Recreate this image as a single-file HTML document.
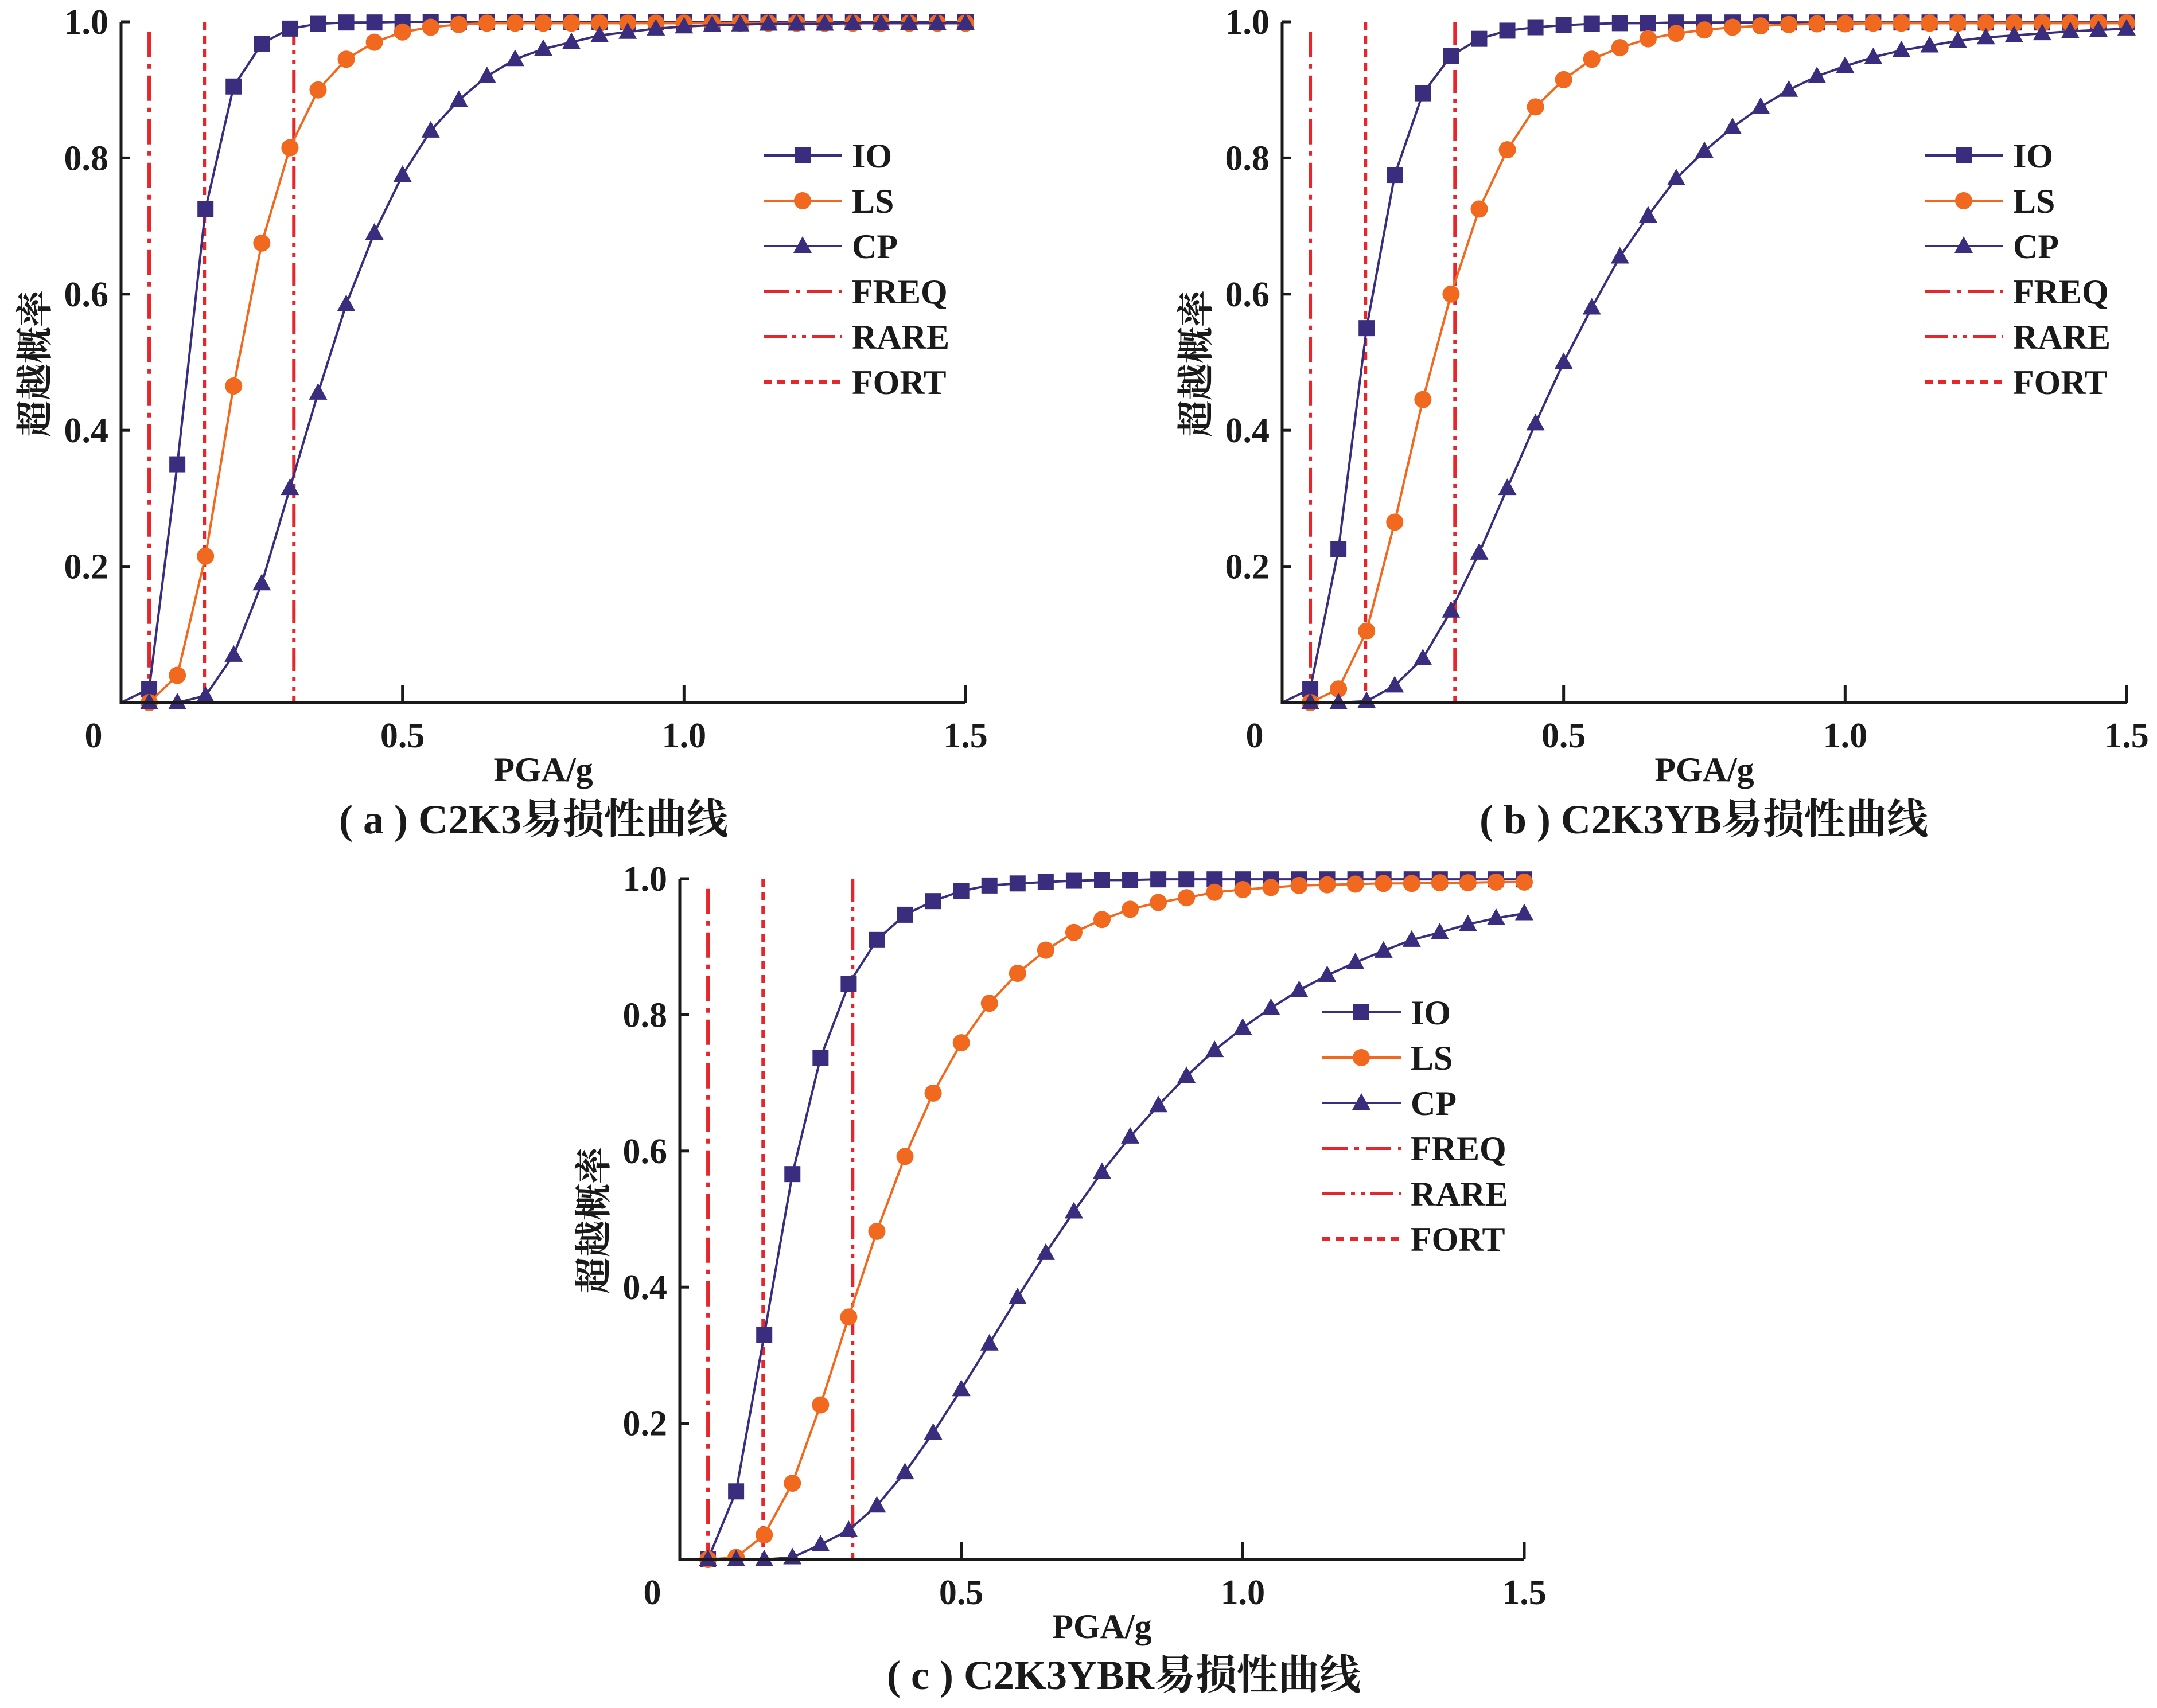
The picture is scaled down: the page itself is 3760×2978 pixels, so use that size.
<!DOCTYPE html>
<html><head><meta charset="utf-8">
<style>
html,body{margin:0;padding:0;background:#fff;}
svg{display:block;}
text{font-family:"Liberation Serif","Noto Serif CJK SC",serif;font-weight:bold;fill:#1a1a1a;}
</style></head>
<body>
<svg id="chart" width="3760" height="2978" viewBox="0 0 3760 2978" xmlns="http://www.w3.org/2000/svg"></svg>
<script>
const pga = [0,0.05,0.1,0.15,0.2,0.25,0.3,0.35,0.4,0.45,0.5,0.55,0.6,0.65,0.7,0.75,0.8,0.85,0.9,0.95,1.0,1.05,1.1,1.15,1.2,1.25,1.3,1.35,1.4,1.45,1.5];
const aIO = [0,0.02,0.35,0.725,0.905,0.968,0.99,0.997,0.999,0.999,1,1,1,1,1,1,1,1,1,1,1,1,1,1,1,1,1,1,1,1,1];
const aLS = [0,0,0.04,0.215,0.465,0.675,0.815,0.9,0.945,0.97,0.985,0.992,0.996,0.998,0.998,0.998,0.998,0.998,0.998,0.998,0.998,0.998,0.998,0.998,0.998,0.998,0.998,0.998,0.998,0.998,0.998];
const aCP = [0,0,0,0.01,0.07,0.175,0.315,0.455,0.585,0.69,0.775,0.84,0.885,0.92,0.945,0.96,0.97,0.98,0.985,0.99,0.993,0.995,0.996,0.997,0.997,0.997,0.998,0.998,0.998,0.998,0.998];
const bIO = [0,0.02,0.225,0.55,0.775,0.895,0.95,0.975,0.987,0.992,0.995,0.997,0.998,0.998,0.999,0.999,0.999,0.999,0.999,0.999,0.999,0.999,0.999,0.999,0.999,0.999,0.999,0.999,0.999,0.999,0.999];
const bLS = [0,0,0.02,0.105,0.265,0.445,0.6,0.725,0.812,0.875,0.915,0.945,0.962,0.975,0.983,0.988,0.992,0.994,0.996,0.997,0.997,0.998,0.998,0.998,0.998,0.998,0.998,0.998,0.998,0.998,0.998];
const bCP = [0,0,0,0.002,0.025,0.065,0.135,0.22,0.315,0.41,0.5,0.58,0.655,0.715,0.77,0.81,0.845,0.875,0.9,0.92,0.935,0.948,0.958,0.965,0.972,0.977,0.98,0.983,0.986,0.988,0.99];
const cIO = [0,0,0.1,0.33,0.566,0.737,0.845,0.91,0.947,0.967,0.982,0.99,0.993,0.995,0.997,0.998,0.998,0.999,0.999,0.999,0.999,0.999,0.999,0.999,0.999,0.999,0.999,0.999,0.999,0.999,0.999];
const cLS = [0,0,0.003,0.036,0.112,0.227,0.356,0.482,0.592,0.685,0.759,0.817,0.861,0.895,0.921,0.94,0.955,0.965,0.972,0.98,0.984,0.987,0.99,0.991,0.992,0.993,0.993,0.994,0.994,0.995,0.995];
const cCP = [0,0,0,0,0.003,0.022,0.043,0.079,0.128,0.186,0.25,0.317,0.385,0.45,0.511,0.569,0.621,0.667,0.71,0.748,0.781,0.81,0.836,0.858,0.877,0.894,0.91,0.921,0.933,0.942,0.949];
const xTicks = [0,0.5,1.0,1.5];
const xTickLabels = ["0","0.5","1.0","1.5"];
const yTicks = [0.2,0.4,0.6,0.8,1.0];
const yTickLabels = ["0.2","0.4","0.6","0.8","1.0"];
const hazardNames = ["FREQ","RARE","FORT"];
const hazardPGA = [0.05,0.307,0.148];
const legendNames = ["IO","LS","CP","FREQ","RARE","FORT"];
const captions = ["( a ) C2K3易损性曲线","( b ) C2K3YB易损性曲线","( c ) C2K3YBR易损性曲线"];

const NAVY="#3a2d7d", ORANGE="#f0691f", RED="#e5262b";
const NS="http://www.w3.org/2000/svg";
const svg=document.getElementById('chart');
function mk(tag,attrs,parent){const e=document.createElementNS(NS,tag);for(const k in attrs)e.setAttribute(k,attrs[k]);(parent||svg).appendChild(e);return e;}
const dashes={FREQ:"44 12 8 12",RARE:"40 10 7 10 7 10",FORT:"14 10"};

function marker(g,type,x,y,color){
  let m;
  if(type==='sq') m=mk('rect',{x:x-14,y:y-14,width:28,height:28,fill:color},g);
  else if(type==='ci') m=mk('circle',{cx:x,cy:y,r:15,fill:color},g);
  else m=mk('polygon',{points:`${x},${y-17} ${x-16},${y+12} ${x+16},${y+12}`,fill:color},g);
  
  
}

function panel(id,x0,yTop,series,capX,capY){
  const W=1472, yBot=yTop+1187, H=yBot-yTop;
  const sx=v=>x0+v/1.5*W, sy=v=>yBot-v*H;
  const g=mk('g',{});
  
  
  hazardNames.forEach((n,i)=>{
    const l=mk('line',{x1:sx(hazardPGA[i]),x2:sx(hazardPGA[i]),y1:sy(i===0?0.985:1.0),y2:sy(0),stroke:RED,'stroke-width':6,'stroke-dasharray':dashes[n]},g);
    
    
  });
  const defs=[["IO",series[0],NAVY,'sq'],["LS",series[1],ORANGE,'ci'],["CP",series[2],NAVY,'tr']];
  defs.forEach(([n,vals,col,mt])=>{
    const pts=pga.map((p,i)=>sx(p)+','+sy(vals[i])).join(' ');
    const pl=mk('polyline',{points:pts,fill:'none',stroke:col,'stroke-width':4},g);
    
    
    pga.forEach((p,i)=>{ if(i>0) marker(g,mt,sx(p),sy(vals[i]),col); });
  });
  const ax=mk('path',{d:`M${x0},${yTop} L${x0},${yBot} L${x0+W},${yBot}`,fill:'none',stroke:'#1a1a1a','stroke-width':5},g);
  
  
  yTicks.forEach((t,i)=>{
    mk('line',{x1:x0,x2:x0+16,y1:sy(t),y2:sy(t),stroke:'#1a1a1a','stroke-width':5},g);
    const tx=mk('text',{x:x0-22,y:sy(t)+21,'font-size':62,'text-anchor':'end'},g);
    tx.textContent=yTickLabels[i];
    
    
  });
  xTicks.forEach((t,i)=>{
    if(t>0) mk('line',{x1:sx(t),x2:sx(t),y1:yBot,y2:yBot-30,stroke:'#1a1a1a','stroke-width':5},g);
    const tx=mk('text',{x:t===0?x0-48:sx(t),y:yBot+78,'font-size':62,'text-anchor':'middle'},g);
    tx.textContent=xTickLabels[i];
    
    
  });
  const xl=mk('text',{x:x0+736,y:yBot+137,'font-size':60,'text-anchor':'middle'},g);
  xl.textContent='PGA/g';
  
  
  const yl=mk('text',{x:0,y:0,'font-size':64,'text-anchor':'middle',transform:`translate(${x0-128},${yTop+596}) rotate(-90)`},g);
  yl.textContent='超越概率';
  
  
  const cap=mk('text',{x:capX,y:capY,'font-size':72,'text-anchor':'middle'},g);
  cap.textContent=captions[id];
  
  
  const lg=mk('g',{},g);
  
  
  legendNames.forEach((n,i)=>{
    const y=yTop+233+i*79, lx=x0+1120;
    const e=mk('g',{},lg);
    
    
    if(i<3){
      const col=i===1?ORANGE:NAVY;
      mk('line',{x1:lx,x2:lx+137,y1:y,y2:y,stroke:col,'stroke-width':4},e);
      marker(e,['sq','ci','tr'][i],lx+68,y,col);
    } else {
      mk('line',{x1:lx,x2:lx+137,y1:y,y2:y,stroke:RED,'stroke-width':6,'stroke-dasharray':dashes[n]},e);
    }
    const t=mk('text',{x:lx+154,y:y+21,'font-size':60},e);
    t.textContent=n;
  });
}
panel(0,211,38,[aIO,aLS,aCP],930,1453);
panel(1,2235,38,[bIO,bLS,bCP],2970,1453);
panel(2,1185,1532,[cIO,cLS,cCP],1959,2945);
</script>
</body></html>
